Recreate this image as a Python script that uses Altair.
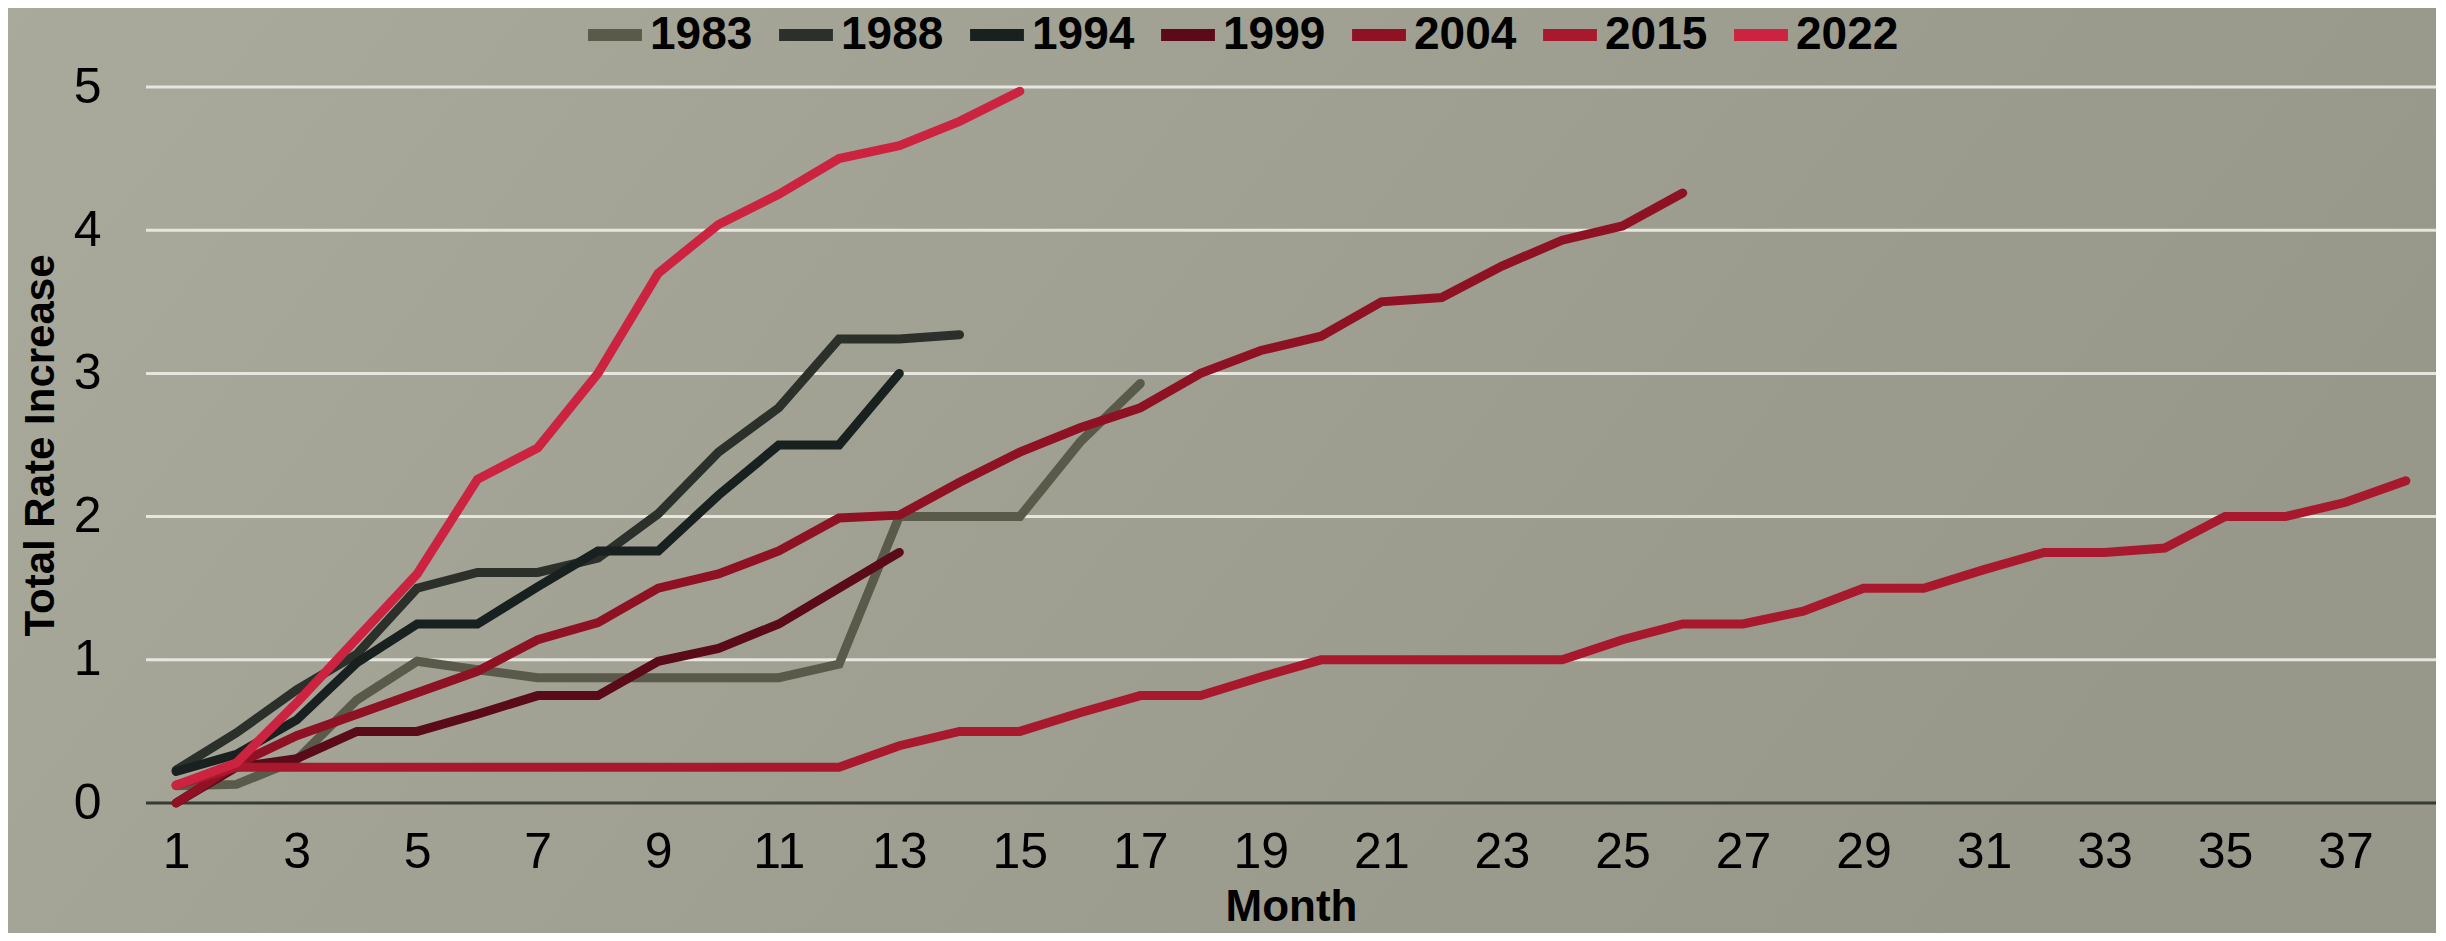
import altair as alt
import pandas as pd

years = ["1983", "1988", "1994", "1999", "2004", "2015", "2022"]
colors = ["#5a5a4a", "#2b302b", "#182020", "#5a0a18", "#8f1124", "#a8192e", "#cc2440"]

v1983 = [0.12, 0.13, 0.3, 0.72, 0.99, 0.93, 0.875, 0.875, 0.875, 0.875, 0.875, 0.97, 2.0, 2.0, 2.0, 2.52, 2.93]
v1988 = [0.23, 0.49, 0.79, 1.04, 1.5, 1.61, 1.61, 1.71, 2.02, 2.45, 2.76, 3.24, 3.24, 3.27]
v1994 = [0.22, 0.34, 0.58, 0.98, 1.25, 1.25, 1.51, 1.76, 1.76, 2.15, 2.5, 2.5, 3.0]
v1999 = [0.0, 0.25, 0.31, 0.5, 0.5, 0.62, 0.75, 0.75, 0.99, 1.08, 1.25, 1.5, 1.75]
v2004 = [0.0, 0.27, 0.47, 0.62, 0.77, 0.92, 1.14, 1.26, 1.5, 1.6, 1.76, 1.99, 2.01, 2.24, 2.45,
         2.62, 2.76, 3.0, 3.16, 3.26, 3.5, 3.53, 3.75, 3.93, 4.03, 4.26]
v2015 = [0.125, 0.25, 0.25, 0.25, 0.25, 0.25, 0.25, 0.25, 0.25, 0.25, 0.25, 0.25, 0.4, 0.5, 0.5,
         0.63, 0.75, 0.75, 0.88, 1.0, 1.0, 1.0, 1.0, 1.0, 1.14, 1.25, 1.25, 1.34, 1.5, 1.5,
         1.63, 1.75, 1.75, 1.78, 2.0, 2.0, 2.1, 2.25]
v2022 = [0.125, 0.28, 0.7, 1.15, 1.6, 2.26, 2.48, 3.0, 3.7, 4.04, 4.25, 4.5, 4.59, 4.76, 4.97]

x_ticks = list(range(1, 38, 2))
y_ticks = [0, 1, 2, 3, 4, 5]

series = dict(zip(years, [v1983, v1988, v1994, v1999, v2004, v2015, v2022]))
rows = []
for y, vals in series.items():
    for i, v in enumerate(vals):
        rows.append({"Year": y, "Month": i + 1, "Value": v, "ord": years.index(y)})
df = pd.DataFrame(rows)

W, H = 2290, 716
PL, PT = 138, 79

bold_font = "Liberation Sans"
reg_font = "Liberation Sans"

x_enc = alt.X("Month:Q", scale=alt.Scale(domain=[0.5, 38.5], nice=False, zero=False),
              axis=alt.Axis(values=x_ticks, title="Month", grid=False, ticks=False,
                            domain=False, zindex=1,
                            labelFont=reg_font, labelFontSize=50, labelColor="#000000",
                            labelPadding=24, labelFlush=False,
                            titleFont=bold_font, titleFontWeight="bold", titleFontSize=44,
                            titleColor="#000000", titleY=104, titleBaseline="middle"))
y_enc = alt.Y("Value:Q", scale=alt.Scale(domain=[0, 5], nice=False),
              axis=alt.Axis(values=y_ticks, title="Total Rate Increase", grid=False,
                            ticks=False, domain=False, zindex=1,
                            labelFont=reg_font, labelFontSize=50, labelColor="#000000",
                            labelPadding=45,
                            titleFont=bold_font, titleFontWeight="bold", titleFontSize=42,
                            titleColor="#000000", titleAngle=-90, titleX=-106,
                            titleBaseline="middle"))

bg = alt.Chart(pd.DataFrame({"a": [0]})).mark_rect(
    color=alt.Gradient(
        gradient="linear",
        stops=[alt.GradientStop(color="#a9aa9b", offset=0),
               alt.GradientStop(color="#97978a", offset=1)],
        x1=0, x2=1, y1=0, y2=0.3,
    )
).encode(
    x=alt.value(-PL), x2=alt.value(W + 20), y=alt.value(-PT), y2=alt.value(H + 140)
)

grid_df = pd.DataFrame({"Value": y_ticks[1:]})
grid = alt.Chart(grid_df).mark_rule(color="#e6e6df", strokeWidth=3).encode(
    y=y_enc, x=alt.value(0), x2=alt.value(W)
)
zero = alt.Chart(pd.DataFrame({"Value": [0]})).mark_rule(color="#373b35", strokeWidth=3).encode(
    y=y_enc, x=alt.value(0), x2=alt.value(W)
)

lines = alt.Chart(df).mark_line(strokeWidth=9, strokeCap="round", strokeJoin="miter").encode(
    x=x_enc,
    y=y_enc,
    color=alt.Color("Year:N", scale=alt.Scale(domain=years, range=colors),
                    legend=alt.Legend(orient="none", direction="horizontal", title=None,
                                      legendX=436, legendY=-85,
                                      symbolType="stroke", symbolStrokeWidth=12,
                                      symbolSize=2900, columnPadding=2, labelOffset=2,
                                      labelFont=bold_font, labelFontWeight="bold",
                                      labelFontSize=46, labelColor="#000000")),
    order=alt.Order("ord:Q"),
    detail="Year:N",
)

chart = alt.layer(bg, grid, zero, lines).properties(
    width=W, height=H,
    padding={"left": PL, "top": PT, "right": 0, "bottom": 130},
    autosize=alt.AutoSizeParams(type="none"),
).configure_view(stroke=None).configure(background="#a4a596")

chart.save("out.html", embed_options={"renderer": "svg", "actions": False})
